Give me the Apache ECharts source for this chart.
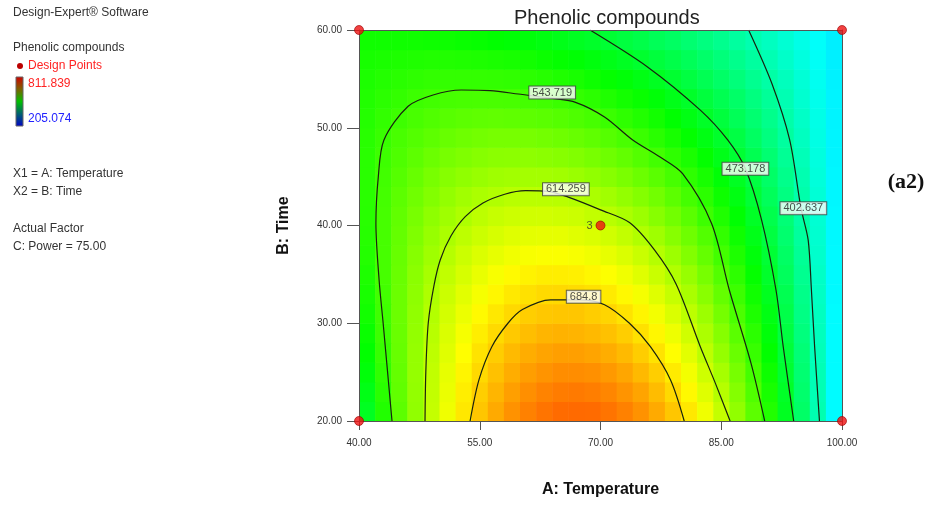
<!DOCTYPE html>
<html>
<head>
<meta charset="utf-8">
<script src="https://cdn.jsdelivr.net/npm/echarts@6/dist/echarts.min.js"></script>
<style>
  html, body { margin: 0; padding: 0; background: #ffffff; }
  #chart { width: 937px; height: 509px; }
</style>
</head>
<body>
<div id="chart"></div>
<script>
// Cell centres of the response grid (A: Temperature, B: Time)
const temperatures = [41, 43, 45, 47, 49, 51, 53, 55, 57, 59, 61, 63, 65, 67, 69,
                      71, 73, 75, 77, 79, 81, 83, 85, 87, 89, 91, 93, 95, 97, 99];
const times = [21, 23, 25, 27, 29, 31, 33, 35, 37, 39, 41, 43, 45, 47, 49, 51, 53, 55, 57, 59];

// Phenolic compounds, one row per time value (ascending), one column per temperature
const phenolic = [
  [489, 528, 563, 595, 625, 651, 674, 694, 711, 725, 735, 743, 748, 749, 748, 743, 735, 725, 711, 694, 674, 651, 625, 595, 563, 528, 489, 448, 403, 355],
  [496, 533, 566, 596, 624, 648, 670, 689, 704, 717, 727, 734, 738, 739, 737, 732, 724, 714, 700, 683, 664, 641, 616, 587, 556, 522, 485, 444, 401, 355],
  [503, 537, 568, 597, 623, 646, 666, 683, 697, 709, 718, 724, 728, 728, 726, 721, 713, 702, 689, 672, 653, 631, 607, 579, 549, 516, 480, 441, 400, 355],
  [509, 541, 570, 597, 621, 642, 661, 677, 690, 701, 709, 714, 717, 717, 714, 709, 701, 690, 677, 661, 643, 621, 597, 571, 541, 509, 475, 438, 398, 355],
  [514, 544, 571, 596, 618, 638, 655, 670, 682, 692, 699, 704, 706, 705, 702, 697, 689, 678, 665, 650, 632, 611, 588, 562, 534, 503, 470, 434, 396, 355],
  [519, 546, 572, 595, 615, 634, 649, 663, 674, 683, 689, 693, 694, 694, 690, 685, 677, 666, 653, 638, 620, 601, 578, 553, 526, 497, 465, 430, 394, 355],
  [523, 548, 572, 593, 612, 629, 643, 655, 665, 673, 678, 682, 683, 681, 678, 672, 664, 654, 641, 626, 609, 590, 568, 544, 518, 490, 460, 427, 392, 354],
  [526, 550, 571, 591, 608, 623, 636, 647, 656, 663, 667, 670, 670, 669, 665, 659, 651, 641, 628, 614, 598, 579, 558, 535, 511, 483, 454, 423, 390, 354],
  [529, 550, 570, 588, 603, 617, 629, 639, 646, 652, 656, 658, 658, 656, 652, 646, 638, 628, 616, 602, 586, 568, 548, 526, 502, 477, 449, 419, 387, 354],
  [531, 550, 568, 584, 598, 610, 621, 629, 636, 641, 644, 645, 645, 642, 638, 632, 624, 614, 603, 589, 574, 557, 538, 517, 494, 470, 443, 415, 385, 353],
  [532, 550, 566, 580, 593, 603, 612, 620, 626, 630, 632, 633, 631, 629, 624, 618, 610, 601, 589, 576, 562, 545, 527, 507, 486, 463, 438, 411, 383, 353],
  [533, 549, 563, 575, 586, 596, 604, 610, 614, 618, 619, 619, 618, 615, 610, 604, 596, 587, 576, 563, 549, 534, 516, 498, 477, 455, 432, 407, 381, 352],
  [533, 547, 559, 570, 580, 588, 594, 599, 603, 605, 606, 606, 604, 600, 595, 589, 581, 572, 562, 550, 536, 522, 505, 488, 469, 448, 426, 403, 378, 352],
  [533, 545, 555, 564, 572, 579, 584, 588, 591, 592, 593, 591, 589, 585, 580, 574, 567, 558, 548, 536, 524, 510, 494, 478, 460, 441, 420, 399, 376, 351],
  [532, 542, 551, 558, 564, 570, 574, 577, 579, 579, 579, 577, 574, 570, 565, 559, 552, 543, 533, 522, 510, 497, 483, 468, 451, 433, 414, 394, 373, 351],
  [530, 538, 545, 551, 556, 560, 563, 565, 566, 565, 564, 562, 559, 555, 550, 543, 536, 528, 519, 508, 497, 485, 472, 457, 442, 426, 408, 390, 371, 350],
  [528, 534, 539, 544, 547, 550, 551, 552, 552, 551, 549, 547, 543, 539, 534, 527, 520, 513, 504, 494, 484, 472, 460, 447, 433, 418, 402, 385, 368, 350],
  [525, 529, 533, 536, 538, 539, 539, 539, 538, 537, 534, 531, 527, 523, 517, 511, 504, 497, 489, 480, 470, 459, 448, 436, 423, 410, 396, 381, 365, 349],
  [522, 524, 526, 527, 528, 528, 527, 526, 524, 522, 519, 515, 511, 506, 501, 495, 488, 481, 473, 465, 456, 446, 436, 425, 414, 402, 389, 376, 362, 348],
  [518, 518, 518, 518, 517, 516, 514, 512, 509, 506, 503, 499, 494, 489, 484, 478, 471, 465, 457, 450, 442, 433, 424, 414, 404, 394, 383, 371, 360, 347]
];

// Contour lines as [temperature, time] points
const contour684 = [[53.8, 20], [54.9, 24.2], [56.5, 27.6], [58.5, 30.0], [60.3, 31.4], [63.8, 32.4],
                    [67.5, 32.4], [70.5, 31.9], [73.6, 30.0], [76.2, 27.6], [78.7, 24.2], [80.4, 20]];
const contour614 = [[48.2, 20], [48.3, 25], [48.6, 30.0], [49.3, 33.8], [50.1, 36.5], [51.4, 38.9],
                    [53.2, 40.9], [55.4, 42.3], [58.1, 43.2], [60.7, 43.56], [63.5, 43.5], [66.0, 42.9],
                    [70.0, 41.6], [73.6, 40.3], [76.7, 37.5], [79.4, 34.0], [82.4, 27.6], [84.3, 23.8], [86.1, 20]];
const contour543 = [[44.1, 20], [43.0, 30.0], [42.5, 34.4], [42.1, 40.2], [42.4, 45.0], [43.1, 48.75],
                    [46.1, 52.2], [49.2, 53.35], [52.7, 53.86], [56.3, 53.8], [59.8, 53.45], [64.0, 53.0],
                    [66.9, 52.6], [70.5, 51.1], [74.0, 48.75], [77.4, 47.0], [80.2, 45.3], [83.8, 40.2],
                    [86.0, 33.4], [88.7, 25.9], [90.4, 20]];
const contour473 = [[68.7, 60], [75.8, 56.25], [82.4, 51.8], [85.8, 48.75], [88.0, 45.8], [90.0, 40.6],
                    [91.8, 33.4], [92.7, 27.6], [94.0, 20]];
const contour402 = [[88.4, 60], [91.3, 54.5], [93.5, 48.75], [94.9, 41.8], [95.8, 38.5], [96.2, 33.4],
                    [96.6, 27.6], [97.2, 20]];
const contourLevels = ['684.8', '614.259', '543.719', '473.178', '402.637'];
const contourLabelAt = [[67.9, 32.7], [65.7, 43.7], [64.0, 53.6], [88.0, 45.8], [95.2, 41.76]];

// Design points and their replicate counts
const designPoints = [[40, 60], [100, 60], [40, 20], [100, 20], [70, 40]];
const replicates = [1, 1, 1, 1, 3];

const colorMin = 205.074;
const colorMax = 811.839;
const xTicks = { min: 40, max: 100, interval: 15 };
const yTicks = { min: 20, max: 60, interval: 10 };

const heatData = [];
times.forEach((t, j) => {
  temperatures.forEach((temp, i) => heatData.push([temp, t, phenolic[j][i]]));
});
const stepT = temperatures[1] - temperatures[0];
const stepTime = times[1] - times[0];

const chart = echarts.init(document.getElementById('chart'), null, { renderer: 'canvas' });
const FONT = '"Liberation Sans", Arial, sans-serif';

const contourSeries = [contour684, contour614, contour543, contour473, contour402].map((pts, k) => ({
  type: 'line',
  name: contourLevels[k],
  data: pts,
  showSymbol: false,
  smooth: 0.3,
  silent: true,
  z: 3,
  lineStyle: { color: '#18220f', width: 1.2 }
}));

const axisCommon = {
  z: 6,
  splitLine: { show: false },
  axisLine: { show: true, lineStyle: { color: '#555555', width: 1 } }
};

chart.setOption({
  animation: false,
  backgroundColor: '#ffffff',
  title: {
    text: 'Phenolic compounds',
    left: 509,
    top: 3,
    textStyle: { fontFamily: FONT, fontSize: 20, fontWeight: 'normal', color: '#222222' }
  },
  grid: { left: 359, top: 30, width: 483, height: 391, show: false },
  xAxis: [
    Object.assign({}, axisCommon, {
      type: 'value', min: xTicks.min, max: xTicks.max, interval: xTicks.interval,
      position: 'bottom',
      name: 'A: Temperature', nameLocation: 'middle', nameGap: 61,
      nameTextStyle: { fontFamily: FONT, fontSize: 16, fontWeight: 'bold', color: '#111111' },
      axisTick: { show: true, length: 9, lineStyle: { color: '#555555' } },
      axisLabel: { margin: 17, fontFamily: FONT, fontSize: 10, color: '#333333',
                   formatter: v => v.toFixed(2) }
    }),
    Object.assign({}, axisCommon, {
      type: 'value', min: xTicks.min, max: xTicks.max, position: 'top',
      axisTick: { show: false }, axisLabel: { show: false }
    })
  ],
  yAxis: [
    Object.assign({}, axisCommon, {
      type: 'value', min: yTicks.min, max: yTicks.max, interval: yTicks.interval,
      position: 'left',
      name: 'B: Time', nameLocation: 'middle', nameGap: 67,
      nameTextStyle: { fontFamily: FONT, fontSize: 16, fontWeight: 'bold', color: '#111111' },
      axisTick: { show: true, length: 12, lineStyle: { color: '#555555' } },
      axisLabel: { margin: 17, fontFamily: FONT, fontSize: 10, color: '#333333',
                   formatter: v => v.toFixed(2) }
    }),
    Object.assign({}, axisCommon, {
      type: 'value', min: yTicks.min, max: yTicks.max, position: 'right',
      axisTick: { show: false }, axisLabel: { show: false }
    })
  ],
  visualMap: {
    show: false,
    type: 'continuous',
    min: colorMin,
    max: colorMax,
    dimension: 2,
    seriesIndex: 0,
    inRange: { color: ['#0000ff', '#00ffff', '#00ff00', '#ffff00', '#ff0000'] }
  },
  series: [
    {
      type: 'custom',
      name: 'Phenolic compounds',
      data: heatData,
      encode: { x: 0, y: 1 },
      silent: true,
      z: 1,
      renderItem: (params, api) => {
        const tx = api.value(0);
        const ty = api.value(1);
        const a = api.coord([tx - stepT / 2, ty + stepTime / 2]);
        const b = api.coord([tx + stepT / 2, ty - stepTime / 2]);
        return {
          type: 'rect',
          shape: { x: a[0], y: a[1], width: b[0] - a[0] + 0.6, height: b[1] - a[1] + 0.6 },
          style: { fill: api.visual('color') }
        };
      }
    },
    ...contourSeries,
    {
      type: 'scatter',
      name: 'contour labels',
      data: contourLabelAt.map((p, k) => ({ value: p, name: contourLevels[k] })),
      symbolSize: 1,
      itemStyle: { color: 'rgba(0,0,0,0)' },
      silent: true,
      z: 5,
      label: {
        show: true,
        position: 'inside',
        formatter: p => p.name,
        fontFamily: FONT,
        fontSize: 11,
        color: '#222222',
        backgroundColor: '#ffffff',
        borderColor: '#444444',
        borderWidth: 1,
        padding: [1, 3, 0, 3]
      }
    },
    {
      type: 'scatter',
      name: 'Design Points',
      data: designPoints.map((p, k) => ({ value: p, reps: replicates[k] })),
      symbolSize: 9,
      clip: false,
      z: 7,
      itemStyle: { color: '#ee1111', borderColor: '#990000', borderWidth: 0.8 },
      label: {
        show: true,
        position: 'left',
        distance: 3,
        fontFamily: FONT,
        fontSize: 11,
        color: '#333333',
        formatter: p => (p.data.reps > 1 ? String(p.data.reps) : '')
      }
    }
  ],
  graphic: [
    { type: 'text', x: 13, y: 13, style: { text: 'Design-Expert\u00AE Software', font: '12px ' + FONT, fill: '#333333', textVerticalAlign: 'middle' } },
    { type: 'text', x: 13, y: 48, style: { text: 'Phenolic compounds', font: '12px ' + FONT, fill: '#333333', textVerticalAlign: 'middle' } },
    { type: 'circle', shape: { cx: 20, cy: 66, r: 3 }, style: { fill: '#bb0000' } },
    { type: 'text', x: 28, y: 66, style: { text: 'Design Points', font: '12px ' + FONT, fill: '#ff2222', textVerticalAlign: 'middle' } },
    {
      type: 'rect', shape: { x: 16, y: 77, width: 7, height: 49 },
      style: {
        fill: new echarts.graphic.LinearGradient(0, 0, 0, 1, [
          { offset: 0, color: '#d00000' },
          { offset: 0.25, color: '#806000' },
          { offset: 0.5, color: '#00c000' },
          { offset: 0.75, color: '#006070' },
          { offset: 1, color: '#0000c8' }
        ]),
        stroke: '#666666', lineWidth: 1
      }
    },
    { type: 'text', x: 28, y: 84, style: { text: '811.839', font: '12px ' + FONT, fill: '#ff2222', textVerticalAlign: 'middle' } },
    { type: 'text', x: 28, y: 119, style: { text: '205.074', font: '12px ' + FONT, fill: '#2222ff', textVerticalAlign: 'middle' } },
    { type: 'text', x: 13, y: 174, style: { text: 'X1 = A: Temperature', font: '12px ' + FONT, fill: '#333333', textVerticalAlign: 'middle' } },
    { type: 'text', x: 13, y: 192, style: { text: 'X2 = B: Time', font: '12px ' + FONT, fill: '#333333', textVerticalAlign: 'middle' } },
    { type: 'text', x: 13, y: 229, style: { text: 'Actual Factor', font: '12px ' + FONT, fill: '#333333', textVerticalAlign: 'middle' } },
    { type: 'text', x: 13, y: 247, style: { text: 'C: Power = 75.00', font: '12px ' + FONT, fill: '#333333', textVerticalAlign: 'middle' } },
    { type: 'text', x: 906, y: 182, style: { text: '(a2)', font: 'bold 22px "Liberation Serif", "Times New Roman", serif', fill: '#111111', textAlign: 'center', textVerticalAlign: 'middle' } }
  ]
});
</script>
</body>
</html>
